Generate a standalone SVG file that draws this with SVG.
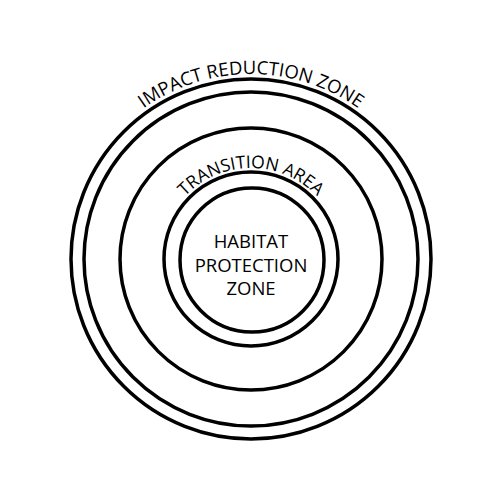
<svg xmlns="http://www.w3.org/2000/svg" width="500" height="500" viewBox="0 0 500 500">
<style>
.ring{fill:none;stroke:#000;stroke-width:3.5}
.lbl{font-family:"Open Sans","Noto Sans",sans-serif;fill:#000}
</style>
<defs>
<path id="arcOuter" d="M 66 259 A 185 185 0 0 1 436 259"/>
<path id="arcTrans" d="M 160 259 A 91 91 0 0 1 342 259"/>
</defs>
<rect width="500" height="500" fill="#fff"/>
<g id="impact-zone">
<circle class="ring" cx="251" cy="259" r="180"/>
<circle class="ring" cx="251" cy="259" r="167"/>
<text class="lbl" font-size="18.5"><textPath href="#arcOuter" startOffset="50%" text-anchor="middle">IMPACT REDUCTION ZONE</textPath></text>
</g>
<g id="transition-area">
<circle class="ring" cx="251" cy="259" r="131"/>
<circle class="ring" cx="251" cy="259" r="87"/>
<text class="lbl" font-size="17.5"><textPath href="#arcTrans" startOffset="50%" text-anchor="middle">TRANSITION AREA</textPath></text>
</g>
<g id="habitat-zone">
<circle class="ring" cx="252" cy="260" r="72"/>
<text class="lbl" font-size="18.5" text-anchor="middle"><tspan x="251" y="248">HABITAT</tspan><tspan x="251" y="272">PROTECTION</tspan><tspan x="251" y="295">ZONE</tspan></text>
</g>
</svg>
